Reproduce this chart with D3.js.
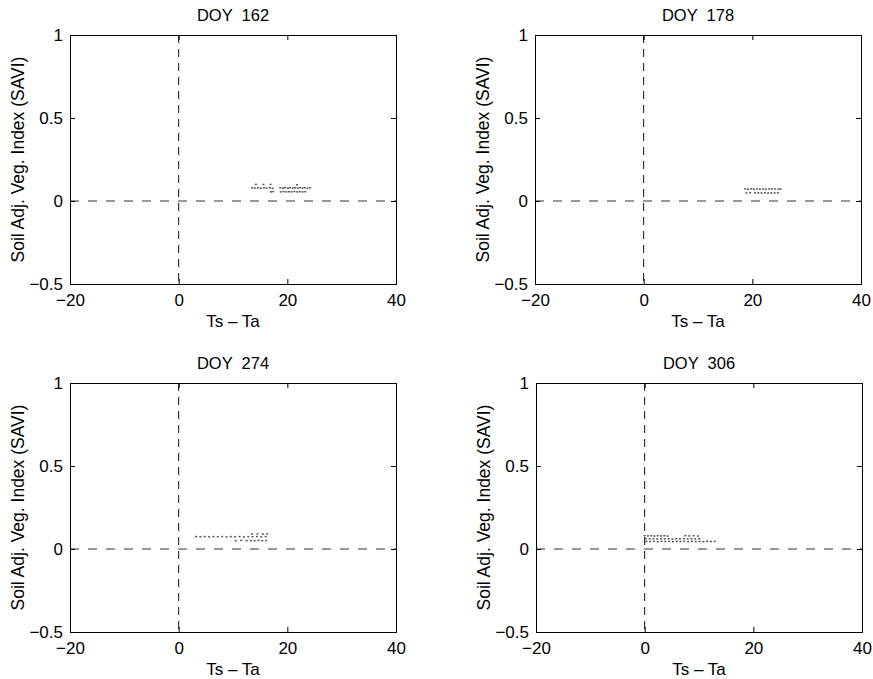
<!DOCTYPE html>
<html>
<head>
<meta charset="utf-8">
<script src="https://cdn.jsdelivr.net/npm/d3@7"></script>
<style>
  html, body { margin: 0; padding: 0; background: #fff; }
  svg text { font-family: "Liberation Sans", Arial, Helvetica, sans-serif; fill: #000; }
</style>
</head>
<body>
<svg id="chart" width="873" height="679"></svg>
<script>
// Axis settings shared by all four panels
const xTicks = [-20, 0, 20, 40];
const yTicks = [-0.5, 0, 0.5, 1];
const xDomain = [-20, 40];
const yDomain = [-0.5, 1];
const xLabel = "Ts \u2013 Ta";
const yLabel = "Soil Adj. Veg. Index (SAVI)";
const titles = ["DOY  162", "DOY  178", "DOY  274", "DOY  306"];

// Ts - Ta versus SAVI pixel samples, one list per day of year
const doy162 = [
  [13.5,0.080],[14.0,0.078],[14.6,0.080],[15.1,0.077],[15.7,0.080],[16.2,0.078],[16.8,0.080],[17.3,0.077],
  [18.7,0.080],[19.2,0.078],[19.6,0.080],[20.1,0.077],[20.5,0.080],[21.0,0.078],[21.4,0.080],[21.9,0.077],
  [22.3,0.080],[22.8,0.078],[23.2,0.080],[23.7,0.077],[24.2,0.079],
  [17.0,0.055],[17.4,0.057],[18.8,0.055],[19.3,0.057],[19.8,0.055],[20.3,0.056],[20.8,0.055],[21.3,0.057],
  [21.8,0.055],[22.3,0.056],[22.8,0.055],[23.3,0.056],
  [14.2,0.100],[15.6,0.100],[16.9,0.100],[21.8,0.098]
];
const doy178 = [
  [18.7,0.073],[19.2,0.071],[19.8,0.073],[20.3,0.071],[20.9,0.073],[21.4,0.072],[22.0,0.073],[22.5,0.071],
  [23.1,0.073],[23.6,0.072],[24.2,0.073],[24.8,0.071],[25.2,0.072],
  [18.9,0.048],[19.6,0.050],[20.5,0.048],[21.1,0.049],[21.7,0.048],[22.3,0.050],[22.9,0.048],[23.5,0.049],
  [24.1,0.048],[24.7,0.049]
];
const doy274 = [
  [3.2,0.075],[4.0,0.074],[4.8,0.075],[5.6,0.073],[6.4,0.075],[7.2,0.074],[8.0,0.075],[8.8,0.073],
  [9.6,0.075],[10.4,0.074],[11.2,0.075],[12.0,0.073],[12.8,0.075],[13.6,0.074],[14.4,0.075],[15.2,0.073],[16.0,0.075],
  [10.5,0.050],[11.5,0.052],[12.5,0.050],[13.3,0.051],[14.0,0.050],[14.7,0.052],[15.4,0.050],[16.1,0.051],
  [13.5,0.090],[14.5,0.091],[15.5,0.090],[16.3,0.091]
];
const doy306 = [
  [0.0,0.080],[0.6,0.079],[1.2,0.080],[1.8,0.078],[2.4,0.080],[3.0,0.079],[3.6,0.080],[4.2,0.078],
  [7.5,0.080],[8.2,0.079],[9.0,0.080],[9.8,0.078],
  [0.2,0.062],[0.9,0.061],[1.6,0.062],[2.3,0.060],[3.0,0.062],[3.7,0.061],[4.4,0.062],[5.1,0.060],
  [5.8,0.062],[6.5,0.061],[7.2,0.062],[7.9,0.060],[8.6,0.062],[9.3,0.061],[10.0,0.062],
  [0.3,0.046],[1.0,0.045],[1.7,0.046],[2.4,0.044],[3.1,0.046],[3.8,0.045],[4.5,0.046],[5.2,0.044],
  [5.9,0.046],[6.6,0.045],[7.3,0.046],[8.0,0.044],[8.7,0.046],[9.4,0.045],[10.1,0.046],[10.8,0.044],
  [11.5,0.046],[12.2,0.045],[12.9,0.046]
];
const panelData = [doy162, doy178, doy274, doy306];

// Panel frames: left/top corners, common size
const panelLeft = [70, 535, 70, 536];
const panelTop = [35, 35, 383, 383];
const panelW = 326;
const panelH = 249;

const svg = d3.select("#chart");

panelData.forEach((pts, i) => {
  const x = d3.scaleLinear().domain(xDomain).range([0, panelW]);
  const y = d3.scaleLinear().domain(yDomain).range([panelH, 0]);
  const g = svg.append("g").attr("transform", `translate(${panelLeft[i]},${panelTop[i]})`);

  // Reference lines at x = 0 and y = 0
  g.append("line")
    .attr("x1", x(0)).attr("x2", x(0)).attr("y1", 0).attr("y2", panelH)
    .attr("stroke", "#111").attr("stroke-width", 1).attr("stroke-dasharray", "8,6");
  g.append("line")
    .attr("x1", 0).attr("x2", panelW).attr("y1", y(0)).attr("y2", y(0))
    .attr("stroke", "#333").attr("stroke-width", 1).attr("stroke-dasharray", "9,9");

  // Samples
  g.selectAll("rect.pt").data(pts).enter().append("rect")
    .attr("class", "pt")
    .attr("x", d => x(d[0]) - 1)
    .attr("y", d => y(d[1]) - 0.75)
    .attr("width", 2).attr("height", 1.5)
    .attr("fill", "#555");

  // Axes (ticks inward, on all four sides)
  const tickFmt = d => String(d).replace("-", "\u2212");
  const bottom = g.append("g").attr("transform", `translate(0,${panelH})`)
    .call(d3.axisBottom(x).tickValues(xTicks).tickSize(-5).tickPadding(10).tickFormat(tickFmt));
  const left = g.append("g")
    .call(d3.axisLeft(y).tickValues(yTicks).tickSize(-5).tickPadding(7).tickFormat(tickFmt));
  const top = g.append("g")
    .call(d3.axisTop(x).tickValues(xTicks).tickSize(-5).tickFormat(""));
  const right = g.append("g").attr("transform", `translate(${panelW},0)`)
    .call(d3.axisRight(y).tickValues(yTicks).tickSize(-5).tickFormat(""));
  [bottom, left, top, right].forEach(a => {
    a.select(".domain").attr("stroke", "#000").attr("stroke-width", 1);
    a.selectAll(".tick line").attr("stroke", "#000");
    a.selectAll("text").attr("font-size", 17).attr("font-family", "Liberation Sans, Arial, sans-serif");
  });

  // Titles and axis labels
  g.append("text").attr("x", panelW / 2).attr("y", -14)
    .attr("text-anchor", "middle").attr("font-size", 16.5).style("white-space", "pre")
    .text(titles[i]);
  g.append("text").attr("x", panelW / 2).attr("y", panelH + 43)
    .attr("text-anchor", "middle").attr("font-size", 17)
    .text(xLabel);
  g.append("text")
    .attr("transform", `translate(${-46},${panelH / 2}) rotate(-90)`)
    .attr("text-anchor", "middle").attr("font-size", 17.5)
    .text(yLabel);
});
</script>
</body>
</html>
